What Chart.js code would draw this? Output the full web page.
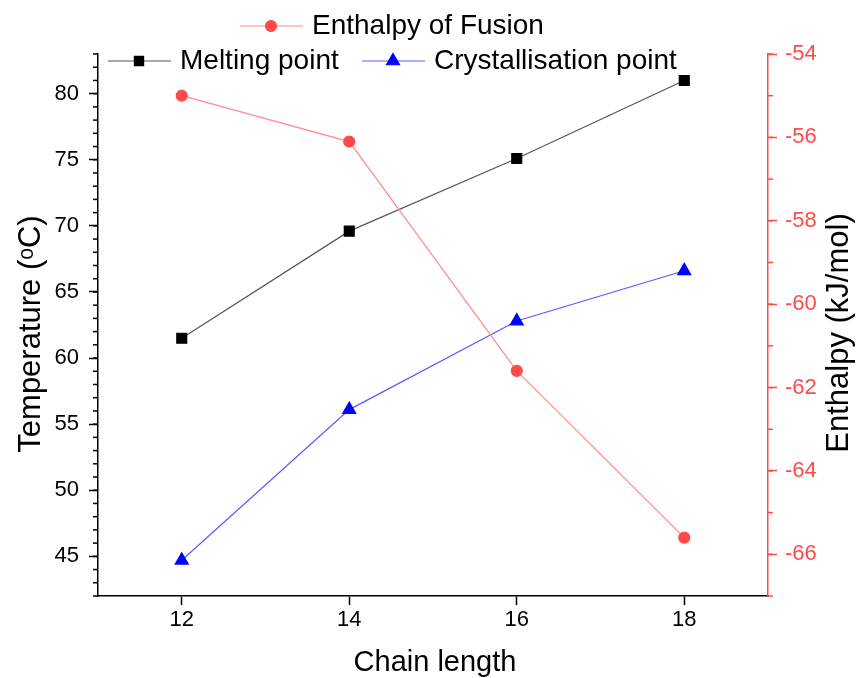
<!DOCTYPE html>
<html>
<head>
<meta charset="utf-8">
<script src="https://cdn.jsdelivr.net/npm/chart.js@4.4.0/dist/chart.umd.min.js"></script>
<style>
html,body{margin:0;padding:0;background:#fff}
</style>
</head>
<body>
<canvas id="c" width="856" height="678"></canvas>
<script>
// values
const chainLength = [12, 14, 16, 18];
const meltingPoint = [61.5, 69.6, 75.1, 81.0];
const crystPoint = [44.7, 56.1, 62.8, 66.6];
const enthalpy = [-55.0, -56.1, -61.6, -65.6];

const xTicks = [12, 14, 16, 18];
const tempTicks = [45, 50, 55, 60, 65, 70, 75, 80];
const enthTicks = [-66, -64, -62, -60, -58, -56, -54];

const FONT = '"Liberation Sans", Arial, sans-serif';
const RED = '#ff4a4a';
const RED_LINE = '#ff8a8a';
const BLUE = '#0000ff';
const BLUE_LINE = '#5a5aff';

const pts = ys => chainLength.map((x, i) => ({x: x, y: ys[i]}));

// minor ticks (every 1 unit) on both y axes
const minorTicks = {
  id: 'minorTicks',
  afterDraw(chart) {
    const ctx = chart.ctx;
    const sets = [['y', '#000', -1], ['y2', RED, 1]];
    sets.forEach(([id, col, dir]) => {
      const s = chart.scales[id];
      const x0 = dir < 0 ? s.right : s.left;
      ctx.save();
      ctx.strokeStyle = col;
      ctx.lineWidth = 1.5;
      for (let v = Math.ceil(s.min); v <= s.max; v++) {
        const py = s.getPixelForValue(v);
        ctx.beginPath();
        ctx.moveTo(x0, py);
        ctx.lineTo(x0 + dir * 5, py);
        ctx.stroke();
      }
      ctx.restore();
    });
  }
};

function legendItem(ctx, x, y, mark, line, style, r, label) {
  ctx.save();
  ctx.strokeStyle = line;
  ctx.lineWidth = 1.2;
  ctx.beginPath();
  ctx.moveTo(x, y);
  ctx.lineTo(x + 63, y);
  ctx.stroke();
  ctx.fillStyle = mark;
  ctx.strokeStyle = mark;
  Chart.helpers.drawPoint(ctx, {pointStyle: style, radius: r, borderWidth: 1, rotation: 0}, x + 31, y);
  ctx.fillStyle = '#000';
  ctx.font = '28px ' + FONT;
  ctx.textBaseline = 'middle';
  ctx.textAlign = 'left';
  ctx.fillText(label, x + 72, y);
  ctx.restore();
}

function title(ctx, text, x, y, size, rot) {
  ctx.save();
  ctx.translate(x, y);
  if (rot) ctx.rotate(-Math.PI / 2);
  ctx.fillStyle = '#000';
  ctx.font = size + 'px ' + FONT;
  ctx.textAlign = 'center';
  ctx.textBaseline = 'middle';
  ctx.fillText(text, 0, 0);
  ctx.restore();
}

// legend in two rows + axis titles
const extras = {
  id: 'extras',
  afterDraw(chart) {
    const ctx = chart.ctx;
    legendItem(ctx, 240, 26, RED, RED_LINE, 'circle', 5.5, 'Enthalpy of Fusion');
    legendItem(ctx, 108, 61, '#000', '#555', 'rect', 6.5, 'Melting point');
    legendItem(ctx, 362, 61, BLUE, BLUE_LINE, 'triangle', 7.5, 'Crystallisation point');

    const a = chart.chartArea;
    title(ctx, 'Chain length', (a.left + a.right) / 2 + 2, 663, 29, false);
    title(ctx, 'Temperature (ᵒC)', 31, (a.top + a.bottom) / 2 + 9, 31, true);
    title(ctx, 'Enthalpy (kJ/mol)', 839, (a.top + a.bottom) / 2 + 8, 31, true);
  }
};

new Chart('c', {
  type: 'line',
  data: {
    datasets: [
      {label: 'Enthalpy of Fusion', data: pts(enthalpy), yAxisID: 'y2',
       borderColor: RED_LINE, borderWidth: 1.2, backgroundColor: RED,
       pointStyle: 'circle', pointRadius: 5.5, pointBorderColor: RED, pointBackgroundColor: RED},
      {label: 'Melting point', data: pts(meltingPoint), yAxisID: 'y',
       borderColor: '#555', borderWidth: 1.2, backgroundColor: '#000',
       pointStyle: 'rect', pointRadius: 7, pointBorderColor: '#000', pointBackgroundColor: '#000'},
      {label: 'Crystallisation point', data: pts(crystPoint), yAxisID: 'y',
       borderColor: BLUE_LINE, borderWidth: 1.2, backgroundColor: BLUE,
       pointStyle: 'triangle', pointRadius: 7.5, pointBorderColor: BLUE, pointBackgroundColor: BLUE}
    ]
  },
  options: {
    responsive: false,
    animation: false,
    layout: {padding: {top: 54}},
    plugins: {legend: {display: false}, tooltip: {enabled: false}},
    scales: {
      x: {
        type: 'linear', min: 11, max: 19,
        afterBuildTicks: s => { s.ticks = xTicks.map(v => ({value: v})); },
        afterFit: s => { s.height = 82; },
        border: {color: '#000', width: 1.5},
        grid: {drawOnChartArea: false, tickLength: 9, tickColor: '#000', tickWidth: 1.5},
        ticks: {color: '#000', font: {family: FONT, size: 22}, padding: 2}
      },
      y: {
        type: 'linear', position: 'left', min: 42, max: 83,
        afterBuildTicks: s => { s.ticks = tempTicks.map(v => ({value: v})); },
        afterFit: s => { s.width = 98; },
        border: {color: '#000', width: 1.5},
        grid: {drawOnChartArea: false, tickLength: 9, tickColor: '#000', tickWidth: 1.5},
        ticks: {color: '#000', font: {family: FONT, size: 22}, padding: 10}
      },
      y2: {
        type: 'linear', position: 'right', min: -67, max: -54,
        afterBuildTicks: s => { s.ticks = enthTicks.map(v => ({value: v})); },
        afterFit: s => { s.width = 88; },
        border: {color: RED, width: 1.5},
        grid: {drawOnChartArea: false, tickLength: 9, tickColor: RED, tickWidth: 1.5},
        ticks: {color: RED, font: {family: FONT, size: 22}, padding: 8}
      }
    }
  },
  plugins: [minorTicks, extras]
});
</script>
</body>
</html>
